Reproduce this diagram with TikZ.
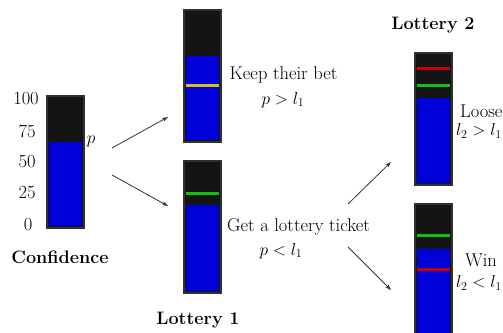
\documentclass[tikz,border=0pt]{standalone}
\usetikzlibrary{arrows.meta}
\definecolor{barblack}{HTML}{141414}
\definecolor{barblue}{HTML}{0000D8}
\definecolor{lyellow}{HTML}{D8C018}
\definecolor{lgreen}{HTML}{10C010}
\definecolor{lred}{HTML}{C80000}
\definecolor{edge}{HTML}{303030}
\tikzset{
  txt/.style={inner sep=0pt, font=\fontsize{18.5}{22}\selectfont},
  btxt/.style={inner sep=0pt, font=\fontsize{18}{22}\selectfont\bfseries},
  barbox/.style={draw=edge, line width=1.2pt, fill=barblack, minimum width=36pt, minimum height=131pt, inner sep=0pt, anchor=north west},
  arr/.style={draw=black!80, line width=0.8pt, -{Stealth[length=6pt,width=4pt]}},
  levelline/.style={line width=3pt}
}
\newcommand{\bluefill}[3]{% left top-of-blue bottom
  \fill[barblue] (#1+1.5,#2) rectangle (#1+34.5,#3-1.5);}
\begin{document}
\begin{tikzpicture}[x=1pt,y=-1pt]
\useasboundingbox (0,0) rectangle (503,332);
\clip (0,0) rectangle (503,332);
\fill[white] (0,0) rectangle (503,332);

% Confidence bar
\node[barbox] (cb) at (47,96) {};
\bluefill{47}{142}{227}
\draw[edge, line width=1.2pt] (cb.north west) rectangle (cb.south east);
\node[txt] (n100) at (26,99) {100};
\node[txt] (n75) at (27,131) {75};
\node[txt] (n50) at (27,162) {50};
\node[txt] (n25) at (27,193) {25};
\node[txt] (n0) at (28,225) {0};
\node[txt] (p) at (91,141) {$p$};
\node[btxt] (conf) at (60,257) {Confidence};

% Lottery 1 top
\node[barbox] (l1a) at (184,10) {};
\bluefill{184}{56}{141}
\draw[lyellow, levelline] (185.5,85) -- (218.5,85);
\draw[edge, line width=1.2pt] (l1a.north west) rectangle (l1a.south east);
\node[txt] (keep) at (283.5,75) {Keep their bet};
\node[txt] (keepc) at (283,100) {$p>l_1$};

% Lottery 1 bottom
\node[barbox] (l1b) at (184,161) {};
\bluefill{184}{205}{292}
\draw[lgreen, levelline] (185.5,193) -- (218.5,193);
\draw[edge, line width=1.2pt] (l1b.north west) rectangle (l1b.south east);
\node[txt, anchor=west] (get) at (227,227) {Get a lottery ticket};
\node[txt] (getc) at (281,251) {$p<l_1$};
\node[btxt] (lot1) at (198,320) {Lottery 1};

% Lottery 2 top
\node[btxt] (lot2) at (433,25) {Lottery 2};
\node[barbox] (l2a) at (415,53) {};
\bluefill{415}{98}{184}
\draw[lred, levelline] (416.5,68) -- (449.5,68);
\draw[lgreen, levelline] (416.5,85) -- (449.5,85);
\draw[edge, line width=1.2pt] (l2a.north west) rectangle (l2a.south east);
\node[txt, anchor=west] (loose) at (460,111) {Loose};
\node[txt, anchor=west] (loosec) at (456,131) {$l_2>l_1$};

% Lottery 2 bottom
\node[barbox] (l2b) at (415,204) {};
\bluefill{415}{249}{335}
\draw[lgreen, levelline] (416.5,235) -- (449.5,235);
\draw[lred, levelline] (416.5,269) -- (449.5,269);
\draw[edge, line width=1.2pt] (l2b.north west) rectangle (l2b.south east);
\node[txt, anchor=west] (win) at (465,260) {Win};
\node[txt, anchor=west] (winc) at (456,283) {$l_2<l_1$};

% arrows
\coordinate (a1s) at (112,148);
\coordinate (a1e) at (168,117);
\coordinate (a2s) at (112,175);
\coordinate (a2e) at (168,206);
\coordinate (a3s) at (348,204);
\coordinate (a3e) at (391,162);
\coordinate (a4s) at (348,247);
\coordinate (a4e) at (391,290);
\draw[arr] (a1s) -- (a1e);
\draw[arr] (a2s) -- (a2e);
\draw[arr] (a3s) -- (a3e);
\draw[arr] (a4s) -- (a4e);
\end{tikzpicture}
\end{document}
